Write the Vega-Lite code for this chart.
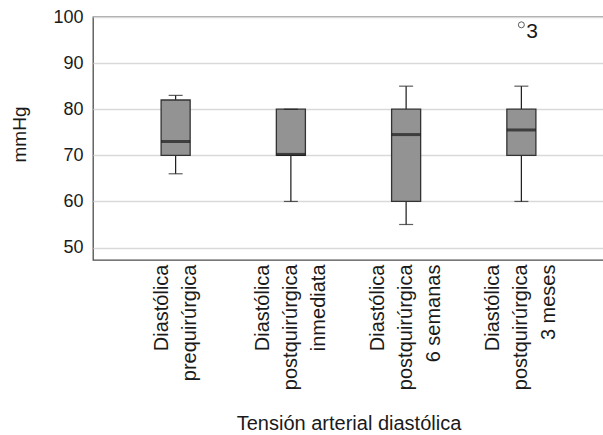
{
  "$schema": "https://vega.github.io/schema/vega-lite/v6.json",
  "width": 511,
  "height": 243,
  "autosize": "none",
  "padding": {"left": 93, "top": 17, "right": 0, "bottom": 175},
  "background": "white",
  "config": {
    "view": {"stroke": "#4d4d4d", "strokeWidth": 1.3},
    "font": "Liberation Sans, Arial",
    "axis": {"labelColor": "#1a1a1a", "titleColor": "#1a1a1a", "titleFontWeight": "normal", "labelFont": "Liberation Sans, Arial", "titleFont": "Liberation Sans, Arial"}
  },
  "data": {
    "values": [
      {"cat": "Diastólica|prequirúrgica", "min": 66, "q1": 70, "median": 73, "q3": 82, "max": 83},
      {"cat": "Diastólica|postquirúrgica|inmediata", "min": 60, "q1": 70, "median": 70.2, "q3": 80, "max": 80},
      {"cat": "Diastólica|postquirúrgica|6 semanas", "min": 55, "q1": 60, "median": 74.5, "q3": 80, "max": 85},
      {"cat": "Diastólica|postquirúrgica|3 meses", "min": 60, "q1": 70, "median": 75.5, "q3": 80, "max": 85}
    ]
  },
  "encoding": {
    "x": {
      "field": "cat", "type": "nominal", "sort": null,
      "scale": {"paddingInner": 0, "paddingOuter": 0.217},
      "axis": {
        "title": "Tensión arterial diastólica",
        "titleFontSize": 20,
        "titleY": 169,
        "titleBaseline": "alphabetic",
        "labelExpr": "split(datum.value, '|')",
        "labelAngle": -90,
        "labelAlign": "right",
        "labelBaseline": "middle",
        "labelFontSize": 20,
        "labelLineHeight": 28,
        "labelOffset": {"expr": "-(length(split(datum.value, '|')) - 1) * 14"},
        "labelPadding": 4,
        "labelLimit": 300,
        "domain": false,
        "ticks": false,
        "grid": false
      }
    }
  },
  "layer": [
    {
      "mark": {"type": "rule", "color": "#1a1a1a", "strokeWidth": 1.2},
      "encoding": {
        "y": {
          "field": "min", "type": "quantitative",
          "scale": {"domain": [47.3, 100], "nice": false, "zero": false},
          "axis": {
            "title": "mmHg",
            "titleFontSize": 19,
            "titleAngle": -90,
            "titleX": -74,
            "titleY": 117,
            "titleAlign": "center",
            "titleBaseline": "middle",
            "values": [50, 60, 70, 80, 90, 100],
            "labelFontSize": 18,
            "labelPadding": 10,
            "domain": false,
            "ticks": false,
            "grid": true,
            "gridColor": "#d9d9d9",
            "gridWidth": 1.3
          }
        },
        "y2": {"field": "q1"}
      }
    },
    {
      "mark": {"type": "rule", "color": "#1a1a1a", "strokeWidth": 1.2},
      "encoding": {
        "y": {"field": "q3", "type": "quantitative"},
        "y2": {"field": "max"}
      }
    },
    {
      "mark": {"type": "bar", "fill": "#939393", "stroke": "#333333", "strokeWidth": 1.3, "width": {"band": 0.252}},
      "encoding": {
        "y": {"field": "q1", "type": "quantitative"},
        "y2": {"field": "q3"}
      }
    },
    {
      "mark": {"type": "tick", "color": "#1a1a1a", "size": 29, "thickness": 3},
      "encoding": {
        "y": {"field": "median", "type": "quantitative"}
      }
    },
    {
      "mark": {"type": "tick", "color": "#1a1a1a", "size": 14, "thickness": 1.2},
      "encoding": {
        "y": {"field": "min", "type": "quantitative"}
      }
    },
    {
      "mark": {"type": "tick", "color": "#1a1a1a", "size": 14, "thickness": 1.2},
      "encoding": {
        "y": {"field": "max", "type": "quantitative"}
      }
    },
    {
      "data": {"values": [{"cat": "Diastólica|postquirúrgica|3 meses", "value": 98.3, "label": "3"}]},
      "layer": [
        {
          "mark": {"type": "point", "shape": "circle", "filled": false, "size": 36, "color": "#1a1a1a", "strokeWidth": 1},
          "encoding": {"y": {"field": "value", "type": "quantitative"}}
        },
        {
          "mark": {"type": "text", "align": "left", "baseline": "top", "dx": 5, "dy": -4, "fontSize": 21, "color": "#1a1a1a"},
          "encoding": {"y": {"field": "value", "type": "quantitative"}, "text": {"field": "label"}}
        }
      ]
    }
  ]
}
